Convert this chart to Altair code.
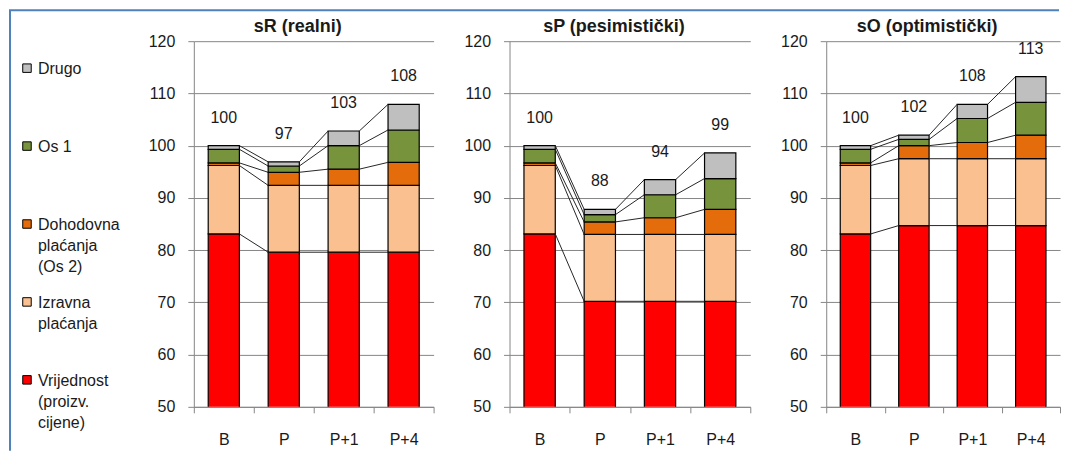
import altair as alt
import pandas as pd

FONT = "Arial, 'Liberation Sans', sans-serif"
TEXT = "#1a1a1a"
GRID = "#868686"

categories = ["B", "P", "P+1", "P+4"]
scenarios = ["sR (realni)", "sP (pesimistički)", "sO (optimistički)"]
series = ["Vrijednost (proizv. cijene)", "Izravna plaćanja",
          "Dohodovna plaćanja (Os 2)", "Os 1", "Drugo"]
series_colors = ["#ff0000", "#fac090", "#e46c0a", "#77933c", "#bfbfbf"]
legend_labels = ["Drugo", "Os 1", "Dohodovna\nplaćanja\n(Os 2)",
                 "Izravna\nplaćanja", "Vrijednost\n(proizv.\ncijene)"]
legend_colors = ["#bfbfbf", "#77933c", "#e46c0a", "#fac090", "#ff0000"]

# segment values (index points), per category B, P, P+1, P+4
sR_vrijednost = [83.1, 79.6, 79.6, 79.6]
sR_izravna = [13.1, 12.8, 12.8, 12.8]
sR_dohodovna = [0.5, 2.5, 3.1, 4.4]
sR_os1 = [2.6, 1.2, 4.5, 6.2]
sR_drugo = [0.7, 0.8, 2.8, 4.9]
sR_labels = ["100", "97", "103", "108"]

sP_vrijednost = [83.1, 70.2, 70.2, 70.2]
sP_izravna = [13.1, 12.8, 12.8, 12.8]
sP_dohodovna = [0.5, 2.4, 3.2, 4.8]
sP_os1 = [2.6, 1.4, 4.4, 5.9]
sP_drugo = [0.7, 1.0, 2.9, 4.9]
sP_labels = ["100", "88", "94", "99"]

sO_vrijednost = [83.1, 84.7, 84.7, 84.7]
sO_izravna = [13.1, 12.8, 12.8, 12.8]
sO_dohodovna = [0.5, 2.5, 3.1, 4.5]
sO_os1 = [2.6, 1.2, 4.6, 6.3]
sO_drugo = [0.7, 0.8, 2.7, 4.9]
sO_labels = ["100", "102", "108", "113"]

scenario_data = {
    scenarios[0]: ([sR_vrijednost, sR_izravna, sR_dohodovna, sR_os1, sR_drugo], sR_labels),
    scenarios[1]: ([sP_vrijednost, sP_izravna, sP_dohodovna, sP_os1, sP_drugo], sP_labels),
    scenarios[2]: ([sO_vrijednost, sO_izravna, sO_dohodovna, sO_os1, sO_drugo], sO_labels),
}

HW = 0.26  # half bar width in category units


def build_tables(segs, labels):
    bar_rows, line_rows, text_rows = [], [], []
    cums = []
    for i, cat in enumerate(categories):
        base = 0.0
        col = []
        for k, s in enumerate(series):
            top = base + segs[k][i]
            bar_rows.append({"x0": i - HW, "x1": i + HW, "y0": base, "y1": top,
                             "series": s})
            col.append(top)
            base = top
        cums.append(col)
        text_rows.append({"x": i, "y": base, "label": labels[i]})
    for k in range(len(series)):
        for i in range(len(categories) - 1):
            line_rows.append({"x0": i + HW, "x1": i + 1 - HW,
                              "y0": cums[i][k], "y1": cums[i + 1][k]})
    return pd.DataFrame(bar_rows), pd.DataFrame(line_rows), pd.DataFrame(text_rows)


xvals = [-0.5, 0, 0.5, 1, 1.5, 2, 2.5, 3, 3.5]
label_expr = " : ".join(
    f"datum.value == {i} ? '{c}'" for i, c in enumerate(categories)) + " : ''"

xscale = alt.Scale(domain=[-0.5, 3.5], nice=False, zero=False)
yscale = alt.Scale(domain=[50, 120], nice=False, zero=False)

xaxis = alt.Axis(values=xvals, labelExpr=label_expr, grid=False, title=None,
                 tickSize=6, labelPadding=19, labelOverlap=False, labelFlush=False,
                 tickOpacity={"condition": {"test": "datum.value % 1 == 0", "value": 0},
                              "value": 1},
                 domainColor=GRID, tickColor=GRID)
yaxis = alt.Axis(values=list(range(50, 121, 10)), grid=True, title=None,
                 tickSize=6, labelPadding=13, gridColor=GRID, domainColor=GRID,
                 tickColor=GRID)

widths = [240, 241, 234]
H = 366


def panel(scen, w):
    segs, labels = scenario_data[scen]
    bars_df, lines_df, text_df = build_tables(segs, labels)
    bars = alt.Chart(bars_df).mark_rect(stroke="black", strokeWidth=1.2, clip=True).encode(
        x=alt.X("x0:Q", scale=xscale, axis=xaxis),
        x2="x1:Q",
        y=alt.Y("y0:Q", scale=yscale, axis=yaxis),
        y2="y1:Q",
        fill=alt.Fill("series:N", scale=alt.Scale(domain=series, range=series_colors),
                      legend=None),
    )
    lines = alt.Chart(lines_df).mark_rule(color="#262626", strokeWidth=1).encode(
        x=alt.X("x0:Q", scale=xscale, axis=xaxis),
        x2="x1:Q",
        y=alt.Y("y0:Q", scale=yscale, axis=yaxis),
        y2="y1:Q",
    )
    texts = alt.Chart(text_df).mark_text(dy=-28, fontSize=16, font=FONT, color=TEXT,
                                         baseline="middle").encode(
        x=alt.X("x:Q", scale=xscale, axis=xaxis),
        y=alt.Y("y:Q", scale=yscale, axis=yaxis),
        text="label:N",
    )
    title = alt.Chart(pd.DataFrame({"t": [scen]})).mark_text(
        fontSize=18, fontWeight="bold", font=FONT, color=TEXT,
        baseline="alphabetic", align="center").encode(
        x=alt.value(w / 2 - 16), y=alt.value(-9), text="t:N")
    return alt.layer(bars, lines, texts, title).properties(width=w, height=H)


legend_df = pd.DataFrame({"idx": list(range(5)), "label": legend_labels,
                          "color": legend_colors})
lscale = alt.Scale(domain=[0, 4], range=[27, 339])
squares = alt.Chart(legend_df).mark_square(size=72, stroke="black", strokeWidth=1,
                                           opacity=1).encode(
    x=alt.value(18),
    y=alt.Y("idx:Q", scale=lscale, axis=None),
    fill=alt.Fill("color:N", scale=None),
)
ltext = alt.Chart(legend_df).mark_text(align="left", baseline="alphabetic", dy=6,
                                       fontSize=16, font=FONT, color=TEXT,
                                       lineBreak="\n", lineHeight=21).encode(
    x=alt.value(29),
    y=alt.Y("idx:Q", scale=lscale, axis=None),
    text="label:N",
)
frame_df = pd.DataFrame({"k": [0]})
frame_left = alt.Chart(frame_df).mark_rule(color="#4f81bd", strokeWidth=2).encode(
    x=alt.value(1), y=alt.value(-31), y2=alt.value(410))
frame_top = alt.Chart(frame_df).mark_rule(color="#4f81bd", strokeWidth=2).encode(
    x=alt.value(0), x2=alt.value(1051), y=alt.value(-31))
legend = alt.layer(frame_left, frame_top, squares, ltext).properties(width=109, height=H)

chart = alt.hconcat(
    legend,
    *[panel(s, w) for s, w in zip(scenarios, widths)],
    spacing=76, bounds="flush",
).properties(
    padding={"left": 0, "top": 1, "right": 0, "bottom": 0},
).configure_view(stroke=None).configure_axis(
    labelFont=FONT, labelFontSize=16, labelColor=TEXT,
)

chart.save("out.html", embed_options={"renderer": "svg", "actions": False})
